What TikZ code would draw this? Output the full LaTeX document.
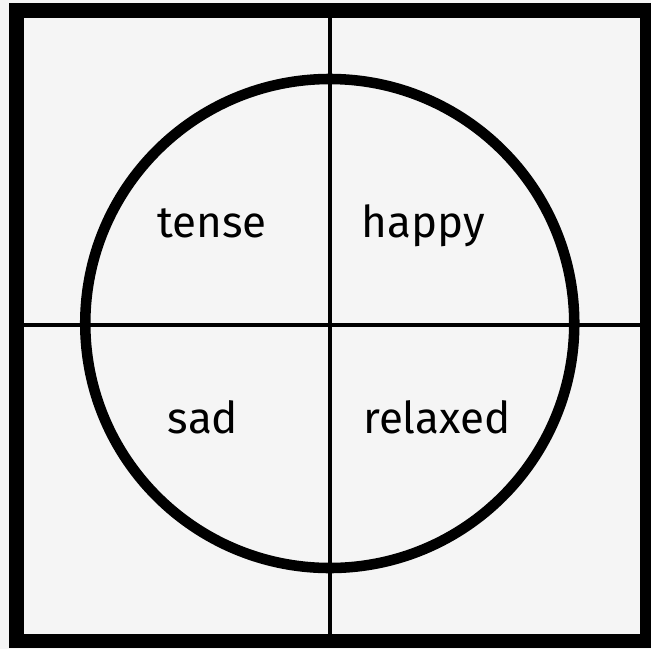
\documentclass[tikz,border=0pt]{standalone}
\usepackage{fontspec}
\setmainfont{Fira Sans}
\usepackage{tikz}
\usetikzlibrary{calc}
\definecolor{bggray}{RGB}{245,245,245}

\begin{document}
\begin{tikzpicture}[x=0.02cm,y=-0.02cm,
		mood/.style={anchor=base,font=\fontsize{25}{25}\selectfont}]
			\fill[bggray] (0,0) rectangle (651,649);
			\useasboundingbox (0,0) rectangle (651,649);
			\coordinate (top) at (330,18);
			\coordinate (bot) at (330,634);
			\coordinate (lft) at (24,325);
			\coordinate (rgt) at (640,325);
			\draw[line width=2.8pt] (top)--(bot);
			\draw[line width=2.8pt] (lft)--(rgt);
			\draw[line width=6pt] (329.75,323.5) circle (244.5);
			\draw[line width=8.5pt] (16.5,10.5) rectangle (647.5,641);
			\path 
			(212,237) node[mood] (tense) {tense}
			(423,237) node[mood] (happy) {happy}
			(203,433) node[mood] (sad) {sad}
			(437,433) node[mood] (relaxed) {relaxed}
			;
		\end{tikzpicture}
\end{document}
